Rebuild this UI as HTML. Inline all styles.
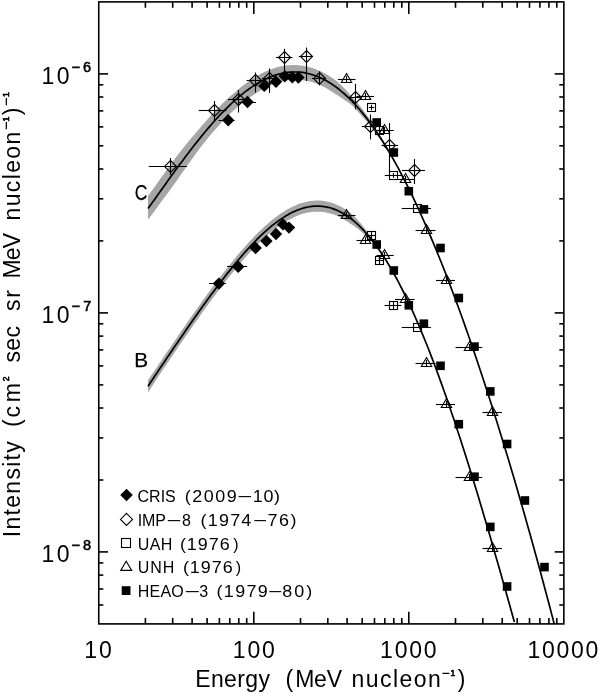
<!DOCTYPE html>
<html><head><meta charset="utf-8"><title>Energy spectra</title>
<style>html,body{margin:0;padding:0;background:#fff}svg{display:block;filter:grayscale(1)}</style></head>
<body>
<svg width="600" height="694" viewBox="0 0 600 694" font-family="Liberation Sans, Arial, sans-serif" fill="#000">
<rect width="600" height="694" fill="#fff"/>
<path d="M148.0,196.0 L150.0,193.3 L152.0,190.5 L154.0,187.7 L156.0,184.9 L158.0,182.1 L160.0,179.3 L162.0,176.5 L164.0,173.7 L166.0,170.9 L168.0,168.1 L170.0,165.3 L172.0,162.6 L174.0,159.8 L176.0,157.2 L178.0,154.6 L180.0,152.1 L182.0,149.6 L184.0,147.1 L186.0,144.6 L188.0,142.1 L190.0,139.7 L192.0,137.3 L194.0,134.9 L196.0,132.5 L198.0,130.2 L200.0,127.9 L202.0,125.6 L204.0,123.3 L206.0,121.0 L208.0,118.7 L210.0,116.5 L212.0,114.3 L214.0,112.2 L216.0,110.1 L218.0,108.0 L220.0,105.9 L222.0,104.0 L224.0,102.0 L226.0,100.2 L228.0,98.3 L230.0,96.5 L232.0,94.8 L234.0,93.1 L236.0,91.4 L238.0,89.6 L240.0,88.0 L242.0,86.3 L244.0,84.8 L246.0,83.3 L248.0,81.8 L250.0,80.4 L252.0,79.0 L254.0,77.7 L256.0,76.5 L258.0,75.4 L260.0,74.3 L262.0,73.2 L264.0,72.2 L266.0,71.3 L268.0,70.4 L270.0,69.6 L272.0,68.9 L274.0,68.2 L276.0,67.6 L278.0,67.1 L280.0,66.6 L282.0,66.2 L284.0,65.8 L286.0,65.5 L288.0,65.3 L290.0,65.2 L292.0,65.1 L294.0,65.0 L296.0,65.1 L298.0,65.2 L300.0,65.4 L302.0,65.6 L304.0,65.9 L306.0,66.3 L308.0,66.8 L310.0,67.3 L312.0,67.9 L314.0,68.6 L316.0,69.3 L318.0,70.2 L320.0,71.0 L322.0,72.0 L324.0,73.0 L326.0,74.0 L328.0,75.2 L330.0,76.4 L332.0,77.7 L334.0,79.1 L336.0,80.6 L338.0,82.3 L340.0,84.1 L342.0,86.0 L344.0,87.9 L346.0,90.0 L348.0,92.3 L350.0,94.7 L352.0,96.8 L354.0,99.0 L356.0,101.3 L358.0,103.6 L360.0,106.0 L362.0,108.6 L364.0,111.3 L366.0,114.0 L368.0,116.8 L370.0,119.7 L372.0,122.7 L374.0,125.7 L376.0,128.8 L378.0,132.0 L380.0,135.2 L382.0,138.6 L384.0,142.1 L386.0,145.6 L388.0,149.2 L390.0,152.8 L392.0,156.5 L394.0,160.3 L394.0,160.6 L392.0,157.3 L390.0,154.2 L388.0,151.0 L386.0,148.0 L384.0,145.0 L382.0,142.1 L380.0,139.2 L378.0,136.4 L376.0,133.6 L374.0,130.9 L372.0,128.3 L370.0,125.7 L368.0,123.2 L366.0,120.8 L364.0,118.5 L362.0,116.2 L360.0,114.0 L358.0,111.8 L356.0,109.7 L354.0,107.6 L352.0,105.6 L350.0,103.7 L348.0,102.3 L346.0,101.0 L344.0,99.7 L342.0,98.2 L340.0,96.9 L338.0,95.6 L336.0,94.4 L334.0,93.1 L332.0,91.7 L330.0,90.4 L328.0,89.2 L326.0,88.0 L324.0,87.0 L322.0,86.0 L320.0,85.0 L318.0,84.2 L316.0,83.4 L314.0,82.8 L312.0,82.1 L310.0,81.6 L308.0,81.1 L306.0,80.7 L304.0,80.4 L302.0,80.1 L300.0,79.9 L298.0,79.8 L296.0,79.7 L294.0,79.7 L292.0,79.8 L290.0,80.0 L288.0,80.2 L286.0,80.6 L284.0,81.0 L282.0,81.4 L280.0,82.0 L278.0,82.6 L276.0,83.2 L274.0,84.0 L272.0,84.7 L270.0,85.6 L268.0,86.5 L266.0,87.5 L264.0,88.5 L262.0,89.6 L260.0,90.8 L258.0,92.0 L256.0,93.3 L254.0,94.5 L252.0,95.9 L250.0,97.2 L248.0,98.7 L246.0,100.1 L244.0,101.7 L242.0,103.3 L240.0,104.9 L238.0,106.6 L236.0,108.3 L234.0,110.2 L232.0,112.0 L230.0,114.0 L228.0,115.9 L226.0,117.9 L224.0,120.0 L222.0,122.1 L220.0,124.2 L218.0,126.4 L216.0,128.7 L214.0,131.0 L212.0,133.3 L210.0,135.6 L208.0,138.0 L206.0,140.5 L204.0,142.9 L202.0,145.4 L200.0,148.0 L198.0,150.7 L196.0,153.4 L194.0,156.2 L192.0,158.9 L190.0,161.7 L188.0,164.5 L186.0,167.3 L184.0,170.2 L182.0,173.1 L180.0,176.0 L178.0,178.9 L176.0,181.8 L174.0,184.6 L172.0,187.3 L170.0,189.9 L168.0,192.7 L166.0,195.4 L164.0,198.1 L162.0,200.8 L160.0,203.5 L158.0,206.2 L156.0,209.0 L154.0,211.7 L152.0,214.4 L150.0,217.1 L148.0,219.8Z" fill="#a6a6a6"/>
<path d="M148.0,380.1 L150.0,377.2 L152.0,374.3 L154.0,371.4 L156.0,368.5 L158.0,365.5 L160.0,362.5 L162.0,359.5 L164.0,356.6 L166.0,353.6 L168.0,350.6 L170.0,347.7 L172.0,344.7 L174.0,341.8 L176.0,338.9 L178.0,335.9 L180.0,333.0 L182.0,330.1 L184.0,327.2 L186.0,324.3 L188.0,321.4 L190.0,318.6 L192.0,315.7 L194.0,312.9 L196.0,310.0 L198.0,307.2 L200.0,304.4 L202.0,301.6 L204.0,298.8 L206.0,296.0 L208.0,293.3 L210.0,290.6 L212.0,287.8 L214.0,285.2 L216.0,282.5 L218.0,279.8 L220.0,277.2 L222.0,274.6 L224.0,272.0 L226.0,269.4 L228.0,266.9 L230.0,264.4 L232.0,261.9 L234.0,259.5 L236.0,257.0 L238.0,254.6 L240.0,252.3 L242.0,250.0 L244.0,247.7 L246.0,245.4 L248.0,243.2 L250.0,241.0 L252.0,238.9 L254.0,236.8 L256.0,234.8 L258.0,232.8 L260.0,230.8 L262.0,228.9 L264.0,227.0 L266.0,225.2 L268.0,223.5 L270.0,221.8 L272.0,220.1 L274.0,218.5 L276.0,217.0 L278.0,215.5 L280.0,214.1 L282.0,212.8 L284.0,211.5 L286.0,210.2 L288.0,209.1 L290.0,208.0 L292.0,207.0 L294.0,206.0 L296.0,205.2 L298.0,204.3 L300.0,203.6 L302.0,203.0 L304.0,202.4 L306.0,201.9 L308.0,201.5 L310.0,201.1 L312.0,200.8 L314.0,200.7 L316.0,200.6 L318.0,200.6 L320.0,200.6 L322.0,200.8 L324.0,201.0 L326.0,201.4 L328.0,201.8 L330.0,202.3 L332.0,202.9 L334.0,203.6 L336.0,204.4 L338.0,205.3 L340.0,206.2 L342.0,207.3 L344.0,208.4 L346.0,209.7 L348.0,211.0 L350.0,212.5 L352.0,214.3 L354.0,216.1 L356.0,218.1 L358.0,220.2 L360.0,222.4 L362.0,224.9 L364.0,227.5 L366.0,230.2 L368.0,233.1 L370.0,236.0 L372.0,239.1 L374.0,242.0 L376.0,245.0 L378.0,248.2 L378.0,248.2 L376.0,245.7 L374.0,243.4 L372.0,241.1 L370.0,239.2 L368.0,237.3 L366.0,235.6 L364.0,233.9 L362.0,232.3 L360.0,230.8 L358.0,229.1 L356.0,227.6 L354.0,226.1 L352.0,224.7 L350.0,223.5 L348.0,222.0 L346.0,220.7 L344.0,219.5 L342.0,218.3 L340.0,217.2 L338.0,216.3 L336.0,215.4 L334.0,214.6 L332.0,214.0 L330.0,213.4 L328.0,212.9 L326.0,212.4 L324.0,212.1 L322.0,211.9 L320.0,211.7 L318.0,211.7 L316.0,211.7 L314.0,211.8 L312.0,212.0 L310.0,212.2 L308.0,212.6 L306.0,213.0 L304.0,213.5 L302.0,214.1 L300.0,214.8 L298.0,215.5 L296.0,216.3 L294.0,217.2 L292.0,218.2 L290.0,219.2 L288.0,220.3 L286.0,221.4 L284.0,222.7 L282.0,224.0 L280.0,225.3 L278.0,226.7 L276.0,228.2 L274.0,229.8 L272.0,231.4 L270.0,233.0 L268.0,234.7 L266.0,236.5 L264.0,238.3 L262.0,240.2 L260.0,242.1 L258.0,244.0 L256.0,246.1 L254.0,248.1 L252.0,250.2 L250.0,252.3 L248.0,254.5 L246.0,256.7 L244.0,259.0 L242.0,261.3 L240.0,263.6 L238.0,266.0 L236.0,268.4 L234.0,270.8 L232.0,273.3 L230.0,275.8 L228.0,278.3 L226.0,280.8 L224.0,283.4 L222.0,286.0 L220.0,288.6 L218.0,291.2 L216.0,293.9 L214.0,296.6 L212.0,299.3 L210.0,302.0 L208.0,304.7 L206.0,307.5 L204.0,310.3 L202.0,313.0 L200.0,315.8 L198.0,318.7 L196.0,321.5 L194.0,324.3 L192.0,327.2 L190.0,330.1 L188.0,332.9 L186.0,335.8 L184.0,338.7 L182.0,341.6 L180.0,344.5 L178.0,347.5 L176.0,350.4 L174.0,353.3 L172.0,356.3 L170.0,359.2 L168.0,362.2 L166.0,365.2 L164.0,368.1 L162.0,371.1 L160.0,374.1 L158.0,377.1 L156.0,380.1 L154.0,383.2 L152.0,386.3 L150.0,389.4 L148.0,392.5Z" fill="#a6a6a6"/>
<g fill="none" stroke="#000" stroke-width="1.7" stroke-linejoin="round">
<path d="M148.0,208.5 L150.0,205.8 L152.0,203.0 L154.0,200.2 L156.0,197.4 L158.0,194.6 L160.0,191.8 L162.0,189.0 L164.0,186.2 L166.0,183.4 L168.0,180.6 L170.0,177.8 L172.0,175.1 L174.0,172.3 L176.0,169.6 L178.0,166.8 L180.0,164.1 L182.0,161.4 L184.0,158.7 L186.0,156.1 L188.0,153.4 L190.0,150.8 L192.0,148.2 L194.0,145.6 L196.0,143.1 L198.0,140.6 L200.0,138.1 L202.0,135.6 L204.0,133.2 L206.0,130.8 L208.0,128.4 L210.0,126.1 L212.0,123.8 L214.0,121.5 L216.0,119.3 L218.0,117.1 L220.0,114.9 L222.0,112.8 L224.0,110.8 L226.0,108.8 L228.0,106.8 L230.0,104.9 L232.0,103.0 L234.0,101.1 L236.0,99.3 L238.0,97.6 L240.0,95.9 L242.0,94.3 L244.0,92.7 L246.0,91.1 L248.0,89.7 L250.0,88.2 L252.0,86.9 L254.0,85.5 L256.0,84.3 L258.0,83.1 L260.0,81.9 L262.0,80.8 L264.0,79.8 L266.0,78.9 L268.0,77.9 L270.0,77.1 L272.0,76.3 L274.0,75.6 L276.0,74.9 L278.0,74.4 L280.0,73.8 L282.0,73.4 L284.0,73.0 L286.0,72.6 L288.0,72.4 L290.0,72.2 L292.0,72.0 L294.0,72.0 L296.0,72.0 L298.0,72.1 L300.0,72.2 L302.0,72.4 L304.0,72.7 L306.0,73.1 L308.0,73.5 L310.0,74.0 L312.0,74.6 L314.0,75.2 L316.0,75.9 L318.0,76.7 L320.0,77.5 L322.0,78.5 L324.0,79.5 L326.0,80.5 L328.0,81.7 L330.0,82.9 L332.0,84.2 L334.0,85.6 L336.0,87.0 L338.0,88.5 L340.0,90.1 L342.0,91.8 L344.0,93.5 L346.0,95.3 L348.0,97.2 L350.0,99.2 L352.0,101.2 L354.0,103.3 L356.0,105.5 L358.0,107.7 L360.0,110.0 L362.0,112.4 L364.0,114.9 L366.0,117.4 L368.0,120.0 L370.0,122.7 L372.0,125.5 L374.0,128.3 L376.0,131.2 L378.0,134.2 L380.0,137.2 L382.0,140.3 L384.0,143.5 L386.0,146.8 L388.0,150.1 L390.0,153.5 L392.0,156.9 L394.0,160.5 L396.0,164.1 L398.0,167.7 L400.0,171.5 L402.0,175.3 L404.0,179.1 L406.0,183.1 L408.0,187.0 L410.0,191.1 L412.0,195.2 L414.0,199.4 L416.0,203.7 L418.0,208.0 L420.0,212.3 L422.0,216.8 L424.0,221.3 L426.0,225.8 L428.0,230.4 L430.0,235.1 L432.0,239.8 L434.0,244.6 L436.0,249.4 L438.0,254.3 L440.0,259.3 L442.0,264.3 L444.0,269.4 L446.0,274.5 L448.0,279.7 L450.0,284.9 L452.0,290.2 L454.0,295.5 L456.0,300.9 L458.0,306.3 L460.0,311.8 L462.0,317.3 L464.0,322.9 L466.0,328.6 L468.0,334.3 L470.0,340.0 L472.0,345.8 L474.0,351.6 L476.0,357.5 L478.0,363.5 L480.0,369.4 L482.0,375.5 L484.0,381.5 L486.0,387.7 L488.0,393.8 L490.0,400.1 L492.0,406.3 L494.0,412.7 L496.0,419.0 L498.0,425.4 L500.0,431.9 L502.0,438.4 L504.0,444.9 L506.0,451.5 L508.0,458.1 L510.0,464.8 L512.0,471.5 L514.0,478.3 L516.0,485.1 L518.0,492.0 L520.0,498.9 L522.0,505.8 L524.0,512.8 L526.0,519.9 L528.0,526.9 L530.0,534.1 L532.0,541.2 L534.0,548.4 L536.0,555.7 L538.0,563.0 L540.0,570.3 L542.0,577.7 L544.0,585.2 L546.0,592.7 L548.0,600.2 L550.0,607.7 L552.0,615.4 L554.0,623.0 L554.2,623.8"/>
<path d="M148.0,386.3 L150.0,383.3 L152.0,380.3 L154.0,377.3 L156.0,374.3 L158.0,371.3 L160.0,368.3 L162.0,365.3 L164.0,362.4 L166.0,359.4 L168.0,356.4 L170.0,353.5 L172.0,350.5 L174.0,347.6 L176.0,344.6 L178.0,341.7 L180.0,338.8 L182.0,335.9 L184.0,333.0 L186.0,330.1 L188.0,327.2 L190.0,324.3 L192.0,321.4 L194.0,318.6 L196.0,315.8 L198.0,312.9 L200.0,310.1 L202.0,307.3 L204.0,304.5 L206.0,301.8 L208.0,299.0 L210.0,296.3 L212.0,293.6 L214.0,290.9 L216.0,288.2 L218.0,285.5 L220.0,282.9 L222.0,280.3 L224.0,277.7 L226.0,275.1 L228.0,272.6 L230.0,270.1 L232.0,267.6 L234.0,265.1 L236.0,262.7 L238.0,260.3 L240.0,258.0 L242.0,255.6 L244.0,253.3 L246.0,251.1 L248.0,248.9 L250.0,246.7 L252.0,244.6 L254.0,242.5 L256.0,240.4 L258.0,238.4 L260.0,236.4 L262.0,234.5 L264.0,232.7 L266.0,230.9 L268.0,229.1 L270.0,227.4 L272.0,225.7 L274.0,224.1 L276.0,222.6 L278.0,221.1 L280.0,219.7 L282.0,218.4 L284.0,217.1 L286.0,215.8 L288.0,214.7 L290.0,213.6 L292.0,212.6 L294.0,211.6 L296.0,210.7 L298.0,209.9 L300.0,209.2 L302.0,208.5 L304.0,207.9 L306.0,207.4 L308.0,207.0 L310.0,206.7 L312.0,206.4 L314.0,206.2 L316.0,206.1 L318.0,206.1 L320.0,206.2 L322.0,206.3 L324.0,206.6 L326.0,206.9 L328.0,207.3 L330.0,207.8 L332.0,208.4 L334.0,209.1 L336.0,209.9 L338.0,210.8 L340.0,211.7 L342.0,212.8 L344.0,213.9 L346.0,215.2 L348.0,216.5 L350.0,218.0 L352.0,219.5 L354.0,221.1 L356.0,222.8 L358.0,224.7 L360.0,226.6 L362.0,228.6 L364.0,230.7 L366.0,232.9 L368.0,235.2 L370.0,237.6 L372.0,240.1 L374.0,242.7 L376.0,245.4 L378.0,248.2 L380.0,251.0 L382.0,254.0 L384.0,257.1 L386.0,260.3 L388.0,263.5 L390.0,266.9 L392.0,270.3 L394.0,273.9 L396.0,277.5 L398.0,281.2 L400.0,285.1 L402.0,289.0 L404.0,293.0 L406.0,297.1 L408.0,301.3 L410.0,305.5 L412.0,309.9 L414.0,314.3 L416.0,318.9 L418.0,323.5 L420.0,328.2 L422.0,333.0 L424.0,337.8 L426.0,342.8 L428.0,347.8 L430.0,352.9 L432.0,358.1 L434.0,363.3 L436.0,368.7 L438.0,374.1 L440.0,379.6 L442.0,385.1 L444.0,390.7 L446.0,396.4 L448.0,402.2 L450.0,408.0 L452.0,413.9 L454.0,419.8 L456.0,425.9 L458.0,431.9 L460.0,438.1 L462.0,444.2 L464.0,450.5 L466.0,456.8 L468.0,463.1 L470.0,469.5 L472.0,476.0 L474.0,482.5 L476.0,489.1 L478.0,495.6 L480.0,502.3 L482.0,509.0 L484.0,515.7 L486.0,522.5 L488.0,529.3 L490.0,536.1 L492.0,543.0 L494.0,549.9 L496.0,556.9 L498.0,563.8 L500.0,570.8 L502.0,577.9 L504.0,585.0 L506.0,592.1 L508.0,599.2 L510.0,606.3 L512.0,613.5 L514.0,620.7 L514.4,622.1"/>
</g>
<g stroke="#000" stroke-width="1.1" fill="none">
<path d="M148.8,166.5L187.0,166.5"/>
<path d="M170.5,158.0L170.5,175.0"/>
<path d="M170.5,160.5L176.5,166.5L170.5,172.5L164.5,166.5Z" fill="none"/>
<path d="M198.8,110.5L226.5,110.5"/>
<path d="M214.5,101.0L214.5,121.0"/>
<path d="M214.5,104.5L220.5,110.5L214.5,116.5L208.5,110.5Z" fill="none"/>
<path d="M228.0,99.5L249.5,99.5"/>
<path d="M238.5,90.0L238.5,112.5"/>
<path d="M238.5,93.5L244.5,99.5L238.5,105.5L232.5,99.5Z" fill="none"/>
<path d="M246.5,80.5L263.0,80.5"/>
<path d="M255.5,72.5L255.5,92.5"/>
<path d="M255.5,74.5L261.5,80.5L255.5,86.5L249.5,80.5Z" fill="none"/>
<path d="M262.0,78.5L275.0,78.5"/>
<path d="M269.5,68.5L269.5,93.0"/>
<path d="M269.5,72.5L275.5,78.5L269.5,84.5L263.5,78.5Z" fill="none"/>
<path d="M276.0,57.5L292.5,57.5"/>
<path d="M284.5,48.8L284.5,73.5"/>
<path d="M284.5,51.5L290.5,57.5L284.5,63.5L278.5,57.5Z" fill="none"/>
<path d="M298.8,56.5L312.5,56.5"/>
<path d="M306.5,47.5L306.5,81.0"/>
<path d="M306.5,50.5L312.5,56.5L306.5,62.5L300.5,56.5Z" fill="none"/>
<path d="M312.0,78.5L326.0,78.5"/>
<path d="M319.5,71.3L319.5,85.3"/>
<path d="M319.5,72.5L325.5,78.5L319.5,84.5L313.5,78.5Z" fill="none"/>
<path d="M350.0,97.5L360.6,97.5"/>
<path d="M355.5,83.8L355.5,109.4"/>
<path d="M355.5,91.5L361.5,97.5L355.5,103.5L349.5,97.5Z" fill="none"/>
<path d="M361.8,126.5L380.0,126.5"/>
<path d="M370.5,114.4L370.5,139.4"/>
<path d="M370.5,120.5L376.5,126.5L370.5,132.5L364.5,126.5Z" fill="none"/>
<path d="M381.5,145.5L398.0,145.5"/>
<path d="M389.5,123.0L389.5,171.6"/>
<path d="M389.5,139.5L395.5,145.5L389.5,151.5L383.5,145.5Z" fill="none"/>
<path d="M402.0,170.5L425.0,170.5"/>
<path d="M414.5,159.0L414.5,184.0"/>
<path d="M414.5,164.5L420.5,170.5L414.5,176.5L408.5,170.5Z" fill="none"/>
<path d="M338.0,79.5L355.5,79.5"/>
<path d="M346.5,76.0L346.5,82.0"/>
<path d="M346.5,73.5L351.7,82.5L341.3,82.5Z" fill="none"/>
<path d="M356.5,96.5L374.0,96.5"/>
<path d="M365.5,93.0L365.5,99.0"/>
<path d="M365.5,90.5L370.7,99.5L360.3,99.5Z" fill="none"/>
<path d="M376.5,130.5L393.7,130.5"/>
<path d="M384.5,127.0L384.5,133.0"/>
<path d="M384.5,124.5L389.7,133.5L379.3,133.5Z" fill="none"/>
<path d="M395.0,179.5L414.6,179.5"/>
<path d="M405.5,176.0L405.5,182.0"/>
<path d="M405.5,173.5L410.7,182.5L400.3,182.5Z" fill="none"/>
<path d="M415.5,230.5L435.5,230.5"/>
<path d="M426.5,227.0L426.5,233.0"/>
<path d="M426.5,224.5L431.7,233.5L421.3,233.5Z" fill="none"/>
<path d="M436.0,280.5L455.0,280.5"/>
<path d="M446.5,277.0L446.5,283.0"/>
<path d="M446.5,274.5L451.7,283.5L441.3,283.5Z" fill="none"/>
<path d="M455.5,347.5L482.3,347.5"/>
<path d="M469.5,344.0L469.5,350.0"/>
<path d="M469.5,341.5L474.7,350.5L464.3,350.5Z" fill="none"/>
<path d="M482.5,412.5L502.0,412.5"/>
<path d="M492.5,409.0L492.5,415.0"/>
<path d="M492.5,406.5L497.7,415.5L487.3,415.5Z" fill="none"/>
<path d="M338.0,215.5L355.5,215.5"/>
<path d="M346.5,212.0L346.5,218.0"/>
<path d="M346.5,209.5L351.7,218.5L341.3,218.5Z" fill="none"/>
<path d="M356.5,240.5L374.0,240.5"/>
<path d="M365.5,237.0L365.5,243.0"/>
<path d="M365.5,234.5L370.7,243.5L360.3,243.5Z" fill="none"/>
<path d="M376.5,255.5L393.7,255.5"/>
<path d="M384.5,252.0L384.5,258.0"/>
<path d="M384.5,249.5L389.7,258.5L379.3,258.5Z" fill="none"/>
<path d="M395.0,299.5L414.6,299.5"/>
<path d="M405.5,296.0L405.5,302.0"/>
<path d="M405.5,293.5L410.7,302.5L400.3,302.5Z" fill="none"/>
<path d="M415.5,363.5L435.5,363.5"/>
<path d="M426.5,360.0L426.5,366.0"/>
<path d="M426.5,357.5L431.7,366.5L421.3,366.5Z" fill="none"/>
<path d="M436.0,404.5L455.0,404.5"/>
<path d="M446.5,401.0L446.5,407.0"/>
<path d="M446.5,398.5L451.7,407.5L441.3,407.5Z" fill="none"/>
<path d="M455.5,477.5L482.3,477.5"/>
<path d="M469.5,474.0L469.5,480.0"/>
<path d="M469.5,471.5L474.7,480.5L464.3,480.5Z" fill="none"/>
<path d="M482.5,548.5L502.0,548.5"/>
<path d="M492.5,545.0L492.5,551.0"/>
<path d="M492.5,542.5L497.7,551.5L487.3,551.5Z" fill="none"/>
<path d="M368.8,107.5L374.2,107.5"/>
<path d="M371.5,104.8L371.5,110.2"/>
<rect x="367.5" y="103.5" width="8.0" height="8.0" fill="none"/>
<path d="M375.5,130.5L383.5,130.5"/>
<path d="M379.5,126.5L379.5,134.5"/>
<rect x="375.5" y="126.5" width="8.0" height="8.0" fill="none"/>
<path d="M384.7,175.5L402.7,175.5"/>
<path d="M393.5,173.1L393.5,177.9"/>
<rect x="389.5" y="171.5" width="8.0" height="8.0" fill="none"/>
<path d="M401.7,208.5L430.9,208.5"/>
<rect x="413.5" y="204.5" width="8.0" height="8.0" fill="none"/>
<path d="M367.5,235.5L375.5,235.5"/>
<path d="M371.5,231.5L371.5,239.5"/>
<rect x="367.5" y="231.5" width="8.0" height="8.0" fill="none"/>
<path d="M375.5,260.5L383.5,260.5"/>
<path d="M379.5,256.5L379.5,264.5"/>
<rect x="375.5" y="256.5" width="8.0" height="8.0" fill="none"/>
<path d="M384.5,305.5L401.5,305.5"/>
<path d="M393.5,301.5L393.5,309.5"/>
<rect x="389.5" y="301.5" width="8.0" height="8.0" fill="none"/>
<path d="M401.7,327.5L430.9,327.5"/>
<rect x="413.5" y="323.5" width="8.0" height="8.0" fill="none"/>
</g>
<g stroke="#000" stroke-width="1" fill="#000">
<path d="M218.5,120.5L234.6,120.5"/>
<path d="M239.0,102.5L256.0,102.5"/>
<path d="M209.0,283.5L226.0,283.5"/>
<path d="M227.0,266.5L247.2,266.5"/>
</g><g fill="#000">
<path d="M228.2,114.0L234.4,120.2L228.2,126.4L222.0,120.2Z" fill="#000"/>
<path d="M247.5,95.8L253.7,102.0L247.5,108.2L241.3,102.0Z" fill="#000"/>
<path d="M264.3,79.7L270.5,85.9L264.3,92.1L258.1,85.9Z" fill="#000"/>
<path d="M276.0,75.6L282.2,81.8L276.0,88.0L269.8,81.8Z" fill="#000"/>
<path d="M284.8,70.1L291.0,76.3L284.8,82.5L278.6,76.3Z" fill="#000"/>
<path d="M292.3,71.0L298.5,77.2L292.3,83.4L286.1,77.2Z" fill="#000"/>
<path d="M298.4,71.3L304.6,77.5L298.4,83.7L292.2,77.5Z" fill="#000"/>
<path d="M218.9,277.4L225.1,283.6L218.9,289.8L212.7,283.6Z" fill="#000"/>
<path d="M238.2,260.5L244.4,266.7L238.2,272.9L232.0,266.7Z" fill="#000"/>
<path d="M255.6,241.8L261.8,248.0L255.6,254.2L249.4,248.0Z" fill="#000"/>
<path d="M266.4,234.8L272.6,241.0L266.4,247.2L260.2,241.0Z" fill="#000"/>
<path d="M276.0,227.8L282.2,234.0L276.0,240.2L269.8,234.0Z" fill="#000"/>
<path d="M283.0,218.2L289.2,224.4L283.0,230.6L276.8,224.4Z" fill="#000"/>
<path d="M289.0,221.4L295.2,227.6L289.0,233.8L282.8,227.6Z" fill="#000"/>
<rect x="372.4" y="118.2" width="8.6" height="8.6" fill="#000"/>
<rect x="389.5" y="148.2" width="8.6" height="8.6" fill="#000"/>
<rect x="404.5" y="186.9" width="8.6" height="8.6" fill="#000"/>
<rect x="419.6" y="205.1" width="8.6" height="8.6" fill="#000"/>
<rect x="436.2" y="243.7" width="8.6" height="8.6" fill="#000"/>
<rect x="454.5" y="293.7" width="8.6" height="8.6" fill="#000"/>
<rect x="470.2" y="342.3" width="8.6" height="8.6" fill="#000"/>
<rect x="486.0" y="387.1" width="8.6" height="8.6" fill="#000"/>
<rect x="502.8" y="439.7" width="8.6" height="8.6" fill="#000"/>
<rect x="520.6" y="496.2" width="8.6" height="8.6" fill="#000"/>
<rect x="540.2" y="562.8" width="8.6" height="8.6" fill="#000"/>
<rect x="372.4" y="240.2" width="8.6" height="8.6" fill="#000"/>
<rect x="389.5" y="266.2" width="8.6" height="8.6" fill="#000"/>
<rect x="404.5" y="301.0" width="8.6" height="8.6" fill="#000"/>
<rect x="419.6" y="319.4" width="8.6" height="8.6" fill="#000"/>
<rect x="436.2" y="361.5" width="8.6" height="8.6" fill="#000"/>
<rect x="454.5" y="419.9" width="8.6" height="8.6" fill="#000"/>
<rect x="470.2" y="472.4" width="8.6" height="8.6" fill="#000"/>
<rect x="486.0" y="522.6" width="8.6" height="8.6" fill="#000"/>
<rect x="502.8" y="582.2" width="8.6" height="8.6" fill="#000"/>
</g>
<g stroke="#000" stroke-width="1.6" fill="none" stroke-linecap="butt">
<rect x="98.75" y="1.9" width="465.1" height="622.0"/>
<path d="M145.4,623.9L145.4,618.0"/>
<path d="M145.4,1.9L145.4,7.8"/>
<path d="M172.7,623.9L172.7,618.0"/>
<path d="M172.7,1.9L172.7,7.8"/>
<path d="M192.1,623.9L192.1,618.0"/>
<path d="M192.1,1.9L192.1,7.8"/>
<path d="M207.1,623.9L207.1,618.0"/>
<path d="M207.1,1.9L207.1,7.8"/>
<path d="M219.4,623.9L219.4,618.0"/>
<path d="M219.4,1.9L219.4,7.8"/>
<path d="M229.8,623.9L229.8,618.0"/>
<path d="M229.8,1.9L229.8,7.8"/>
<path d="M238.8,623.9L238.8,618.0"/>
<path d="M238.8,1.9L238.8,7.8"/>
<path d="M246.7,623.9L246.7,618.0"/>
<path d="M246.7,1.9L246.7,7.8"/>
<path d="M253.8,623.9L253.8,611.8"/>
<path d="M253.8,1.9L253.8,14.0"/>
<path d="M300.5,623.9L300.5,618.0"/>
<path d="M300.5,1.9L300.5,7.8"/>
<path d="M327.8,623.9L327.8,618.0"/>
<path d="M327.8,1.9L327.8,7.8"/>
<path d="M347.1,623.9L347.1,618.0"/>
<path d="M347.1,1.9L347.1,7.8"/>
<path d="M362.2,623.9L362.2,618.0"/>
<path d="M362.2,1.9L362.2,7.8"/>
<path d="M374.5,623.9L374.5,618.0"/>
<path d="M374.5,1.9L374.5,7.8"/>
<path d="M384.8,623.9L384.8,618.0"/>
<path d="M384.8,1.9L384.8,7.8"/>
<path d="M393.8,623.9L393.8,618.0"/>
<path d="M393.8,1.9L393.8,7.8"/>
<path d="M401.8,623.9L401.8,618.0"/>
<path d="M401.8,1.9L401.8,7.8"/>
<path d="M408.8,623.9L408.8,611.8"/>
<path d="M408.8,1.9L408.8,14.0"/>
<path d="M455.5,623.9L455.5,618.0"/>
<path d="M455.5,1.9L455.5,7.8"/>
<path d="M482.8,623.9L482.8,618.0"/>
<path d="M482.8,1.9L482.8,7.8"/>
<path d="M502.2,623.9L502.2,618.0"/>
<path d="M502.2,1.9L502.2,7.8"/>
<path d="M517.2,623.9L517.2,618.0"/>
<path d="M517.2,1.9L517.2,7.8"/>
<path d="M529.5,623.9L529.5,618.0"/>
<path d="M529.5,1.9L529.5,7.8"/>
<path d="M539.9,623.9L539.9,618.0"/>
<path d="M539.9,1.9L539.9,7.8"/>
<path d="M548.9,623.9L548.9,618.0"/>
<path d="M548.9,1.9L548.9,7.8"/>
<path d="M556.8,623.9L556.8,618.0"/>
<path d="M556.8,1.9L556.8,7.8"/>
<path d="M98.8,605.0L103.3,605.0"/>
<path d="M563.9,605.0L559.3,605.0"/>
<path d="M98.8,589.0L103.3,589.0"/>
<path d="M563.9,589.0L559.3,589.0"/>
<path d="M98.8,575.1L103.3,575.1"/>
<path d="M563.9,575.1L559.3,575.1"/>
<path d="M98.8,562.9L103.3,562.9"/>
<path d="M563.9,562.9L559.3,562.9"/>
<path d="M98.8,551.9L108.0,551.9"/>
<path d="M563.9,551.9L554.7,551.9"/>
<path d="M98.8,480.0L103.3,480.0"/>
<path d="M563.9,480.0L559.3,480.0"/>
<path d="M98.8,437.9L103.3,437.9"/>
<path d="M563.9,437.9L559.3,437.9"/>
<path d="M98.8,408.0L103.3,408.0"/>
<path d="M563.9,408.0L559.3,408.0"/>
<path d="M98.8,384.9L103.3,384.9"/>
<path d="M563.9,384.9L559.3,384.9"/>
<path d="M98.8,365.9L103.3,365.9"/>
<path d="M563.9,365.9L559.3,365.9"/>
<path d="M98.8,349.9L103.3,349.9"/>
<path d="M563.9,349.9L559.3,349.9"/>
<path d="M98.8,336.1L103.3,336.1"/>
<path d="M563.9,336.1L559.3,336.1"/>
<path d="M98.8,323.8L103.3,323.8"/>
<path d="M563.9,323.8L559.3,323.8"/>
<path d="M98.8,312.9L108.0,312.9"/>
<path d="M563.9,312.9L554.7,312.9"/>
<path d="M98.8,240.9L103.3,240.9"/>
<path d="M563.9,240.9L559.3,240.9"/>
<path d="M98.8,198.8L103.3,198.8"/>
<path d="M563.9,198.8L559.3,198.8"/>
<path d="M98.8,169.0L103.3,169.0"/>
<path d="M563.9,169.0L559.3,169.0"/>
<path d="M98.8,145.8L103.3,145.8"/>
<path d="M563.9,145.8L559.3,145.8"/>
<path d="M98.8,126.9L103.3,126.9"/>
<path d="M563.9,126.9L559.3,126.9"/>
<path d="M98.8,110.9L103.3,110.9"/>
<path d="M563.9,110.9L559.3,110.9"/>
<path d="M98.8,97.0L103.3,97.0"/>
<path d="M563.9,97.0L559.3,97.0"/>
<path d="M98.8,84.8L103.3,84.8"/>
<path d="M563.9,84.8L559.3,84.8"/>
<path d="M98.8,73.9L108.0,73.9"/>
<path d="M563.9,73.9L554.7,73.9"/>
</g>
<text><tspan x="41.57" y="83.7" font-size="23" letter-spacing="2.30">10</tspan><tspan x="71.48" y="72.0" font-size="14.5" letter-spacing="3.07" stroke="#000" stroke-width="0.55">−6</tspan></text>
<text><tspan x="41.57" y="322.7" font-size="23" letter-spacing="2.30">10</tspan><tspan x="71.48" y="311.0" font-size="14.5" letter-spacing="3.22" stroke="#000" stroke-width="0.55">−7</tspan></text>
<text><tspan x="41.57" y="561.7" font-size="23" letter-spacing="2.30">10</tspan><tspan x="71.48" y="550.0" font-size="14.5" letter-spacing="3.07" stroke="#000" stroke-width="0.55">−8</tspan></text>
<text><tspan x="84.28" y="658.4" font-size="23" letter-spacing="2.00">10</tspan></text>
<text><tspan x="232.78" y="658.4" font-size="23" letter-spacing="1.87">100</tspan></text>
<text><tspan x="380.07" y="658.4" font-size="23" letter-spacing="1.78">1000</tspan></text>
<text><tspan x="527.48" y="658.4" font-size="23" letter-spacing="1.72">10000</tspan></text>
<text stroke="#000" stroke-width="0.25"><tspan x="134.83" y="199.8" font-size="21.4" textLength="12.62" lengthAdjust="spacingAndGlyphs">C</tspan></text>
<text stroke="#000" stroke-width="0.25"><tspan x="134.34" y="367.0" font-size="20.6" textLength="13.84" lengthAdjust="spacingAndGlyphs">B</tspan></text>
<text font-size="16"><tspan x="137.50" y="502.0" letter-spacing="0.02">CRIS</tspan> <tspan x="184.72" letter-spacing="1.36" textLength="53.45" lengthAdjust="spacingAndGlyphs">(2009</tspan><tspan x="237.01" textLength="15.05" lengthAdjust="spacingAndGlyphs">−</tspan><tspan x="252.86" letter-spacing="0.50" textLength="27.57" lengthAdjust="spacingAndGlyphs">10)</tspan></text>
<text font-size="16"><tspan x="137.76" y="525.7" letter-spacing="-0.18">IMP</tspan><tspan x="166.21" textLength="15.05" lengthAdjust="spacingAndGlyphs">−</tspan><tspan x="181.96">8</tspan> <tspan x="200.62" letter-spacing="1.08" textLength="51.88" lengthAdjust="spacingAndGlyphs">(1974</tspan><tspan x="253.00" textLength="13.97" lengthAdjust="spacingAndGlyphs">−</tspan><tspan x="267.40" letter-spacing="1.41" textLength="30.65" lengthAdjust="spacingAndGlyphs">76)</tspan></text>
<text font-size="16"><tspan x="137.80" y="549.8" letter-spacing="0.36">UAH</tspan> <tspan x="179.92" letter-spacing="0.89" textLength="50.84" lengthAdjust="spacingAndGlyphs">(1976</tspan><tspan x="233.30">)</tspan></text>
<text font-size="16"><tspan x="137.80" y="573.4" letter-spacing="0.92">UNH</tspan> <tspan x="182.92" letter-spacing="0.89" textLength="50.84" lengthAdjust="spacingAndGlyphs">(1976</tspan><tspan x="235.80">)</tspan></text>
<text font-size="16"><tspan x="137.72" y="597.1" letter-spacing="0.24">HEAO</tspan><tspan x="184.16" textLength="15.65" lengthAdjust="spacingAndGlyphs">−</tspan><tspan x="199.26">3</tspan> <tspan x="216.52" letter-spacing="1.23" textLength="52.70" lengthAdjust="spacingAndGlyphs">(1979</tspan><tspan x="268.09" textLength="14.09" lengthAdjust="spacingAndGlyphs">−</tspan><tspan x="282.28" letter-spacing="1.78" textLength="31.88" lengthAdjust="spacingAndGlyphs">80)</tspan></text>
<path d="M126.5,488.7L132.8,495.0L126.5,501.3L120.2,495.0Z" fill="#000"/>
<g stroke="#000" stroke-width="1.1" fill="none">
<path d="M126.5,513.4L132.5,519.4L126.5,525.4L120.5,519.4Z" fill="none"/>
<rect x="121.5" y="538.5" width="9.0" height="9.0" fill="none"/>
<path d="M126.2,561.2L131.7,570.4L120.7,570.4Z" fill="none"/>
</g>
<rect x="121.7" y="586.2" width="8.8" height="8.8" fill="#000"/>
<text transform="translate(0,687.3)"><tspan x="195.16" y="0.0" font-size="23" letter-spacing="0.39">Energy</tspan> <tspan x="285.57" y="0.0" font-size="23">(</tspan><tspan x="295.16" y="0.0" font-size="23" letter-spacing="-0.21">MeV</tspan> <tspan x="351.50" y="0.0" font-size="23" letter-spacing="1.47">nucleon</tspan><tspan x="442.08" y="-11.0" font-size="8.6" textLength="7.22" lengthAdjust="spacingAndGlyphs" stroke="#000" stroke-width="0.6">−</tspan><tspan x="450.58" y="-11.0" font-size="8.6" stroke="#000" stroke-width="0.6">1</tspan><tspan x="457.84" y="0.0" font-size="23">)</tspan></text>
<text transform="translate(20.1,535.5) rotate(-90)"><tspan x="-1.77" y="0.0" font-size="23" letter-spacing="1.30">Intensity</tspan> <tspan x="108.47" y="0.0" font-size="23">(</tspan><tspan x="118.08" y="0.0" font-size="23" letter-spacing="3.71">cm</tspan><tspan x="154.31" y="-11.0" font-size="8.6" stroke="#000" stroke-width="0.6">2</tspan> <tspan x="172.93" y="0.0" font-size="23" letter-spacing="0.39">sec</tspan> <tspan x="224.62" y="0.0" font-size="23" letter-spacing="1.52">sr</tspan> <tspan x="257.06" y="0.0" font-size="23" letter-spacing="-0.86">MeV</tspan> <tspan x="315.00" y="0.0" font-size="23" letter-spacing="1.36">nucleon</tspan><tspan x="405.65" y="-11.0" font-size="8.6" textLength="7.59" lengthAdjust="spacingAndGlyphs" stroke="#000" stroke-width="0.6">−</tspan><tspan x="413.98" y="-11.0" font-size="8.6" stroke="#000" stroke-width="0.6">1</tspan><tspan x="420.24" y="0.0" font-size="23">)</tspan><tspan x="429.85" y="-11.0" font-size="8.6" textLength="7.59" lengthAdjust="spacingAndGlyphs" stroke="#000" stroke-width="0.6">−</tspan><tspan x="438.58" y="-11.0" font-size="8.6" stroke="#000" stroke-width="0.6">1</tspan></text>
</svg>
</body></html>
